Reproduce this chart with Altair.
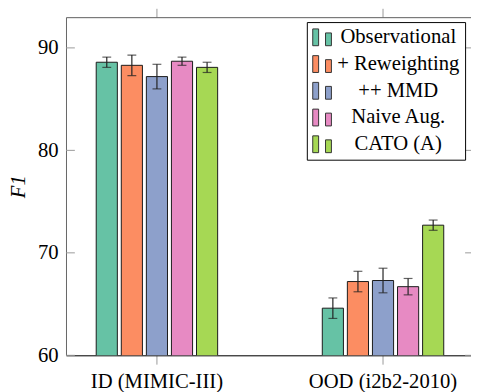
import altair as alt
import pandas as pd

groups = ["ID (MIMIC-III)", "OOD (i2b2-2010)"]
methods = ["Observational", "+ Reweighting", "++ MMD", "Naive Aug.", "CATO (A)"]
id_vals = [88.6, 88.3, 87.2, 88.7, 88.1]
id_errs = [0.5, 1.0, 1.2, 0.4, 0.5]
ood_vals = [64.6, 67.2, 67.3, 66.7, 72.7]
ood_errs = [1.0, 1.0, 1.2, 0.8, 0.5]
colors = ["#66c2a5", "#fc8d62", "#8da0cb", "#e78ac3", "#a6d854"]
y_ticks = [60, 70, 80, 90]

rows = []
for g, vals, errs in [(groups[0], id_vals, id_errs), (groups[1], ood_vals, ood_errs)]:
    for m, v, e in zip(methods, vals, errs):
        rows.append({"group": g, "method": m, "value": v, "lo": v - e, "hi": v + e})
df = pd.DataFrame(rows)
yt = pd.DataFrame({"v": y_ticks})

W, H = 415, 344
FONT = "Liberation Serif"

xscale = alt.Scale(domain=groups, paddingInner=0.241, paddingOuter=0.0227)
offscale = alt.Scale(domain=methods, paddingInner=0.157, paddingOuter=1.0)
yscale = alt.Scale(domain=[60, 93], nice=False, zero=False)

legend_symbol = "M-1,-0.9H-0.37V0.9H-1Z M0.37,-0.47H1V0.9H0.37Z"

base = alt.Chart(df)

yaxis = alt.Axis(values=y_ticks, ticks=False, labelPadding=8, labelFont=FONT,
                 labelFontSize=21, labelColor="black", domainColor="#666",
                 grid=False, titleFont=FONT, titleFontSize=21,
                 titleFontStyle="italic", titleFontWeight="normal",
                 titleColor="black", titlePadding=9)

bars = base.mark_bar(stroke="#1a1a1a", strokeWidth=1, clip=True).encode(
    x=alt.X("group:N", scale=xscale, sort=groups,
            axis=alt.Axis(orient="bottom", title=None, labelAngle=0, labelFont=FONT,
                          labelFontSize=21, labelColor="black", tickSize=9, tickColor="#999",
                          domainColor="black", labelPadding=7)),
    xOffset=alt.XOffset("method:N", sort=methods, scale=offscale),
    y=alt.Y("value:Q", scale=yscale, title="F1", axis=yaxis),
    color=alt.Color("method:N", sort=methods, scale=alt.Scale(domain=methods, range=colors),
                    legend=alt.Legend(orient="none", legendX=245, legendY=5, title=None,
                                      symbolType=legend_symbol, symbolSize=361,
                                      symbolStrokeColor="#333", symbolStrokeWidth=1,
                                      symbolOpacity=1,
                                      labelFont=FONT, labelFontSize=21, labelColor="black",
                                      labelAlign="center", labelOffset=67, rowPadding=4.2,
                                      padding=5, strokeColor="black", fillColor="white")),
)

err = base.mark_rule(color="#222", strokeWidth=1.2).encode(
    x=alt.X("group:N", scale=xscale, sort=groups,
            axis=alt.Axis(orient="top", labels=False, title=None, tickSize=9,
                          tickColor="#999", domainColor="#666")),
    xOffset=alt.XOffset("method:N", sort=methods, scale=offscale),
    y=alt.Y("lo:Q", scale=yscale, title="F1", axis=yaxis),
    y2="hi:Q",
)

cap_lo = base.mark_tick(color="#222", size=9, thickness=1.2).encode(
    x=alt.X("group:N", scale=xscale, sort=groups, axis=None),
    xOffset=alt.XOffset("method:N", sort=methods, scale=offscale),
    y=alt.Y("lo:Q", scale=yscale, title="F1", axis=yaxis),
)
cap_hi = base.mark_tick(color="#222", size=9, thickness=1.2).encode(
    x=alt.X("group:N", scale=xscale, sort=groups, axis=None),
    xOffset=alt.XOffset("method:N", sort=methods, scale=offscale),
    y=alt.Y("hi:Q", scale=yscale, title="F1", axis=yaxis),
)

tick_left = alt.Chart(yt).mark_rule(color="#999", strokeWidth=1).encode(
    y=alt.Y("v:Q", scale=yscale, title="F1", axis=yaxis),
    x=alt.value(0), x2=alt.value(9),
)
tick_right = alt.Chart(yt).mark_rule(color="#999", strokeWidth=1).encode(
    y=alt.Y("v:Q", scale=yscale, title="F1", axis=yaxis),
    x=alt.value(W - 9), x2=alt.value(W),
)

chart = alt.layer(bars, err, cap_lo, cap_hi, tick_left, tick_right).resolve_axis(
    x="independent"
).properties(
    width=W, height=H,
    autosize=alt.AutoSizeParams(type="none"),
    padding={"left": 59, "top": 6, "right": -3, "bottom": 34},
).configure_view(stroke=None).configure(background="white")

chart.save("out.html", embed_options={"renderer": "svg", "actions": False})
